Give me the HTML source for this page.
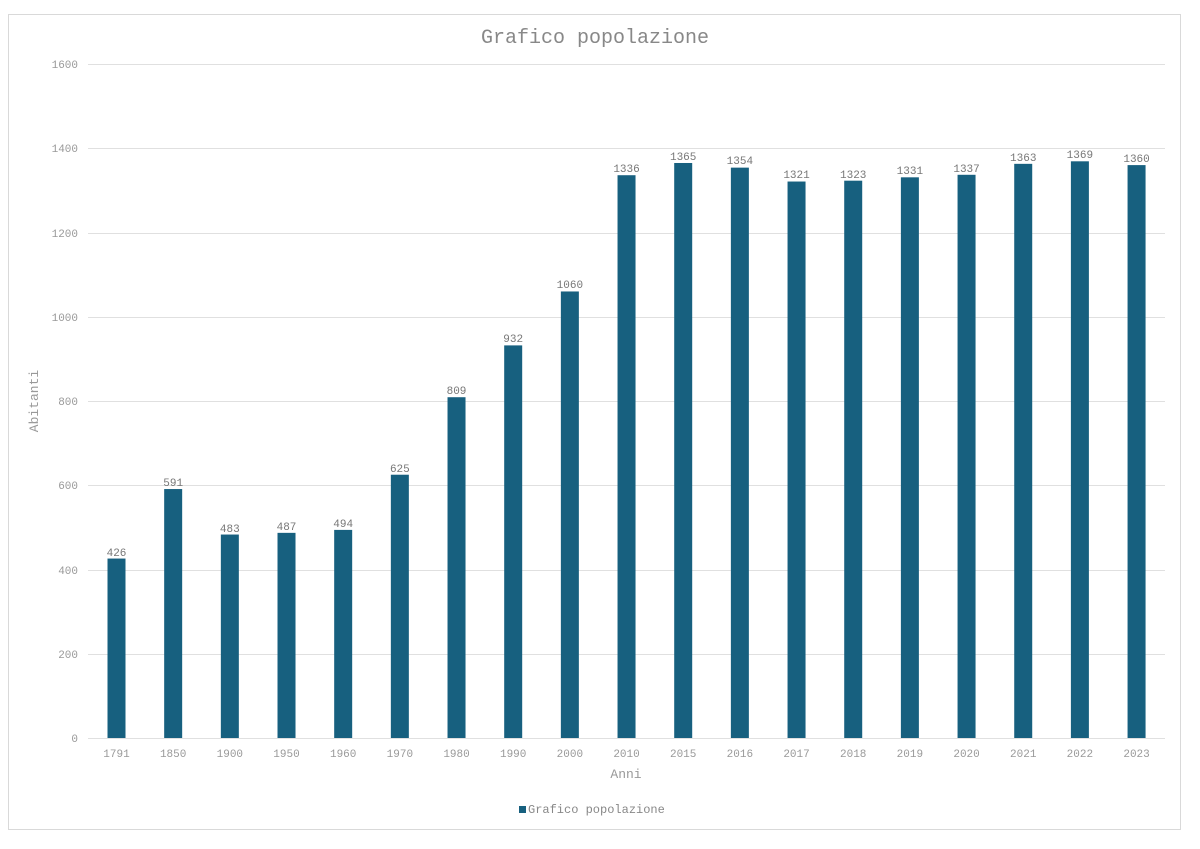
<!DOCTYPE html>
<html><head><style>
body{margin:0;background:#fff;}
svg{display:block;font-family:"Liberation Mono",monospace;}
</style></head><body>
<svg width="1200" height="849" xmlns="http://www.w3.org/2000/svg">
<rect x="8.5" y="14.5" width="1172" height="815" fill="#fff" stroke="#d9d9d9"/>
<text x="595" y="43" text-anchor="middle" font-size="20" fill="#888">Grafico popolazione</text>
<g stroke="#e0e0e0" stroke-width="1">
<line x1="88" x2="1165" y1="64.5" y2="64.5"/>
<line x1="88" x2="1165" y1="148.5" y2="148.5"/>
<line x1="88" x2="1165" y1="233.5" y2="233.5"/>
<line x1="88" x2="1165" y1="317.5" y2="317.5"/>
<line x1="88" x2="1165" y1="401.5" y2="401.5"/>
<line x1="88" x2="1165" y1="485.5" y2="485.5"/>
<line x1="88" x2="1165" y1="570.5" y2="570.5"/>
<line x1="88" x2="1165" y1="654.5" y2="654.5"/>
<line x1="88" x2="1165" y1="738.5" y2="738.5"/>
</g>
<g font-size="11" fill="#999" text-anchor="end">
<text x="78" y="68">1600</text><text x="78" y="152">1400</text><text x="78" y="237">1200</text>
<text x="78" y="321">1000</text><text x="78" y="405">800</text><text x="78" y="489">600</text>
<text x="78" y="574">400</text><text x="78" y="658">200</text><text x="78" y="742">0</text>
</g>
<text transform="translate(38,401) rotate(-90)" text-anchor="middle" font-size="13" fill="#999">Abitanti</text>
<text x="626" y="778" text-anchor="middle" font-size="13" fill="#999">Anni</text>
<g fill="#17607f">
<rect x="107.5" y="558.55" width="18" height="179.45"/>
<rect x="164.17" y="489.04" width="18" height="248.96"/>
<rect x="220.84" y="534.54" width="18" height="203.46"/>
<rect x="277.51" y="532.85" width="18" height="205.15"/>
<rect x="334.18" y="529.9" width="18" height="208.1"/>
<rect x="390.85" y="474.72" width="18" height="263.28"/>
<rect x="447.52" y="397.21" width="18" height="340.79"/>
<rect x="504.19" y="345.39" width="18" height="392.61"/>
<rect x="560.86" y="291.47" width="18" height="446.53"/>
<rect x="617.53" y="175.21" width="18" height="562.79"/>
<rect x="674.2" y="162.99" width="18" height="575.01"/>
<rect x="730.87" y="167.63" width="18" height="570.37"/>
<rect x="787.54" y="181.53" width="18" height="556.47"/>
<rect x="844.21" y="180.69" width="18" height="557.31"/>
<rect x="900.88" y="177.32" width="18" height="560.68"/>
<rect x="957.55" y="174.79" width="18" height="563.21"/>
<rect x="1014.22" y="163.84" width="18" height="574.16"/>
<rect x="1070.89" y="161.31" width="18" height="576.69"/>
<rect x="1127.56" y="165.1" width="18" height="572.9"/>
</g>
<g font-size="11" fill="#777" text-anchor="middle">
<text x="116.5" y="556">426</text>
<text x="173.17" y="486">591</text>
<text x="229.84" y="532">483</text>
<text x="286.51" y="530">487</text>
<text x="343.18" y="527">494</text>
<text x="399.85" y="472">625</text>
<text x="456.52" y="394">809</text>
<text x="513.19" y="342">932</text>
<text x="569.86" y="288">1060</text>
<text x="626.53" y="172">1336</text>
<text x="683.2" y="160">1365</text>
<text x="739.87" y="164">1354</text>
<text x="796.54" y="178">1321</text>
<text x="853.21" y="178">1323</text>
<text x="909.88" y="174">1331</text>
<text x="966.55" y="172">1337</text>
<text x="1023.22" y="161">1363</text>
<text x="1079.89" y="158">1369</text>
<text x="1136.56" y="162">1360</text>
</g>
<g font-size="11" fill="#999" text-anchor="middle">
<text x="116.5" y="757">1791</text>
<text x="173.17" y="757">1850</text>
<text x="229.84" y="757">1900</text>
<text x="286.51" y="757">1950</text>
<text x="343.18" y="757">1960</text>
<text x="399.85" y="757">1970</text>
<text x="456.52" y="757">1980</text>
<text x="513.19" y="757">1990</text>
<text x="569.86" y="757">2000</text>
<text x="626.53" y="757">2010</text>
<text x="683.2" y="757">2015</text>
<text x="739.87" y="757">2016</text>
<text x="796.54" y="757">2017</text>
<text x="853.21" y="757">2018</text>
<text x="909.88" y="757">2019</text>
<text x="966.55" y="757">2020</text>
<text x="1023.22" y="757">2021</text>
<text x="1079.89" y="757">2022</text>
<text x="1136.56" y="757">2023</text>
</g>
<rect x="519" y="806" width="7" height="7" fill="#17607f"/>
<text x="528" y="813" font-size="12" fill="#888">Grafico popolazione</text>
</svg>
</body></html>
